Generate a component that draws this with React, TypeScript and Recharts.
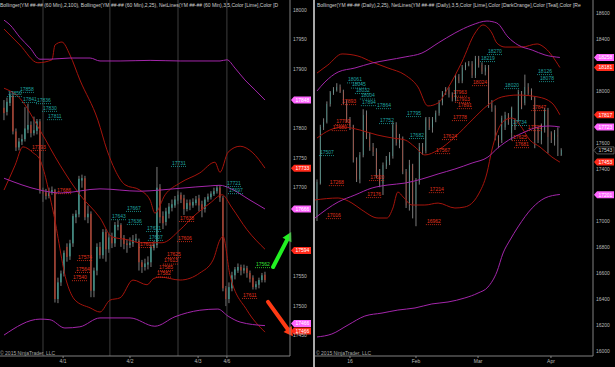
import React from 'react';
import { ComposedChart, Bar, Line, Scatter, XAxis, YAxis, ReferenceLine } from 'recharts';

document.body.style.margin = '0';
document.body.style.background = '#000';

// ---------------------------------------------------------------------------
// colours / fonts
// ---------------------------------------------------------------------------
const FONT = '"Liberation Sans", Arial, sans-serif';
const UP = '#3fd8c6';
const DOWN = '#ff3a1c';
const WICK = '#9a9a9a';
const BB_RED = '#a5140c';
const BB_MAG = '#a326aa';
const TXT_TEAL = '#1fa3a0';
const TXT_RED = '#e2321c';
const TXT_GREEN = '#36e036';
const TAG_MAG = '#ff66ff';
const TAG_RED = '#ff2a1a';
const TICK = '#b9b9b9';
const AXIS = '#808080';
const SESSION = '#3e3e3e';

// ---------------------------------------------------------------------------
// left panel: YM 60 min
// ---------------------------------------------------------------------------
const leftOpen = [
  17835, 17828, 17843, 17855, 17795, 17768, 17778, 17782, 17798, 17806, 17792, 17796, 17812,
  17696, 17692, 17686, 17692, 17696, 17512, 17540, 17555, 17600, 17584, 17606, 17650, 17655,
  17712, 17716, 17650, 17656, 17526, 17560, 17600, 17586, 17625, 17596, 17616, 17606, 17634,
  17637, 17615, 17606, 17603, 17606, 17612, 17610, 17574, 17566, 17570, 17574, 17598, 17603,
  17700, 17652, 17642, 17656, 17666, 17670, 17678, 17688, 17682, 17664, 17675, 17670, 17674,
  17682, 17672, 17664, 17680, 17684, 17689, 17694, 17700, 17683, 17530, 17512, 17530, 17552,
  17560, 17566, 17560, 17564, 17556, 17548, 17532, 17536, 17544, 17553,
];
const leftHigh = [
  17848, 17852, 17862, 17860, 17800, 17784, 17790, 17836, 17842, 17812, 17820, 17816, 17816,
  17700, 17698, 17700, 17702, 17698, 17548, 17560, 17594, 17606, 17612, 17656, 17662, 17720,
  17722, 17720, 17670, 17660, 17565, 17606, 17608, 17630, 17630, 17622, 17624, 17642, 17645,
  17640, 17620, 17612, 17616, 17620, 17622, 17614, 17578, 17580, 17584, 17604, 17610, 17735,
  17706, 17660, 17666, 17674, 17680, 17686, 17694, 17692, 17688, 17680, 17680, 17682, 17686,
  17688, 17678, 17684, 17690, 17694, 17700, 17704, 17704, 17686, 17534, 17540, 17558, 17566,
  17572, 17570, 17570, 17568, 17560, 17552, 17542, 17548, 17556, 17558,
];
const leftLow = [
  17814, 17822, 17838, 17790, 17762, 17763, 17772, 17778, 17792, 17785, 17788, 17790, 17690,
  17676, 17680, 17682, 17688, 17506, 17505, 17534, 17550, 17575, 17578, 17600, 17640, 17650,
  17700, 17645, 17640, 17515, 17515, 17552, 17580, 17580, 17575, 17590, 17598, 17600, 17628,
  17600, 17596, 17590, 17598, 17600, 17608, 17560, 17556, 17560, 17562, 17566, 17594, 17598,
  17640, 17630, 17636, 17648, 17660, 17666, 17672, 17674, 17654, 17660, 17662, 17666, 17670,
  17660, 17650, 17658, 17676, 17680, 17686, 17690, 17676, 17525, 17500, 17505, 17525, 17545,
  17556, 17552, 17555, 17548, 17540, 17528, 17528, 17530, 17540, 17540,
];
const leftClose = [
  17826, 17845, 17857, 17795, 17768, 17778, 17782, 17800, 17806, 17792, 17797, 17812, 17696,
  17690, 17686, 17692, 17696, 17512, 17540, 17555, 17590, 17583, 17606, 17652, 17656, 17715,
  17716, 17650, 17656, 17526, 17560, 17600, 17586, 17625, 17596, 17616, 17606, 17637, 17637,
  17615, 17605, 17603, 17607, 17612, 17614, 17574, 17566, 17572, 17574, 17600, 17604, 17700,
  17650, 17640, 17660, 17668, 17672, 17680, 17688, 17680, 17664, 17674, 17670, 17676, 17680,
  17670, 17662, 17680, 17685, 17690, 17694, 17700, 17683, 17530, 17512, 17532, 17552, 17562,
  17566, 17560, 17564, 17556, 17546, 17532, 17537, 17544, 17552, 17544,
];

// Bollinger(2,100) – magenta
const leftMagUpper = [
  [0, 17983], [2, 17975], [5.3, 17954], [8.7, 17936], [12, 17917], [15.3, 17917], [22, 17919],
  [28.7, 17919], [32, 17914], [38.7, 17914], [48.7, 17915], [58.7, 17914], [72, 17914],
  [74.3, 17916], [77, 17902], [80.3, 17882], [83.7, 17865], [87, 17848],
];
const leftMagMid = [
  [0, 17716], [12, 17696], [18.7, 17691], [32, 17698], [45.3, 17694], [52, 17696], [58.7, 17699],
  [68.7, 17703], [72, 17704], [75.3, 17699], [82, 17679], [87, 17664],
];
const leftMagLower = [
  [0, 17451], [12, 17478], [15.3, 17477], [20.3, 17463], [25.3, 17465], [32, 17480], [42, 17480],
  [50.3, 17466], [57, 17482], [65.3, 17493], [71.3, 17495], [74.7, 17483], [78.7, 17473],
  [87, 17467],
];
// Bollinger(2,25) – dark red
const leftRedUpper = [
  [0, 17968], [5.3, 17941], [11.3, 17911], [16, 17916], [17, 17941], [19.3, 17946], [22, 17924],
  [25.3, 17882], [31.3, 17814], [34.3, 17764], [37, 17730], [40.3, 17705], [45.3, 17696],
  [48.7, 17679], [50.3, 17657], [53.7, 17688], [58.7, 17708], [65.3, 17725], [70.3, 17743],
  [72, 17726], [74.7, 17760], [78.7, 17770], [82.7, 17760], [87, 17733],
];
const leftRedMid = [
  [0, 17868], [5.3, 17851], [12, 17797], [18.7, 17738], [25.3, 17688], [32, 17649], [36, 17617],
  [41.3, 17612], [45.3, 17607], [52.7, 17607], [58.7, 17629], [63.7, 17654], [68.7, 17674],
  [72.7, 17688], [76, 17666], [81, 17629], [87, 17596],
];
const leftRedLower = [
  [0, 17696], [3.7, 17738], [6.3, 17769], [9.7, 17759], [12, 17747], [16.3, 17662], [21, 17539],
  [23.7, 17510], [28.7, 17497], [32, 17490], [35.3, 17510], [38.7, 17514], [43, 17544],
  [47.7, 17536], [49.7, 17546], [52, 17549], [58.7, 17544], [65.3, 17556], [69.7, 17578],
  [72, 17612], [73, 17618], [75.3, 17553], [81, 17493], [87, 17456],
];

// NetLines labels: [bar index, price, text, colour]
const leftNetLabels: [number, number, string, string][] = [
  [5.3, 17867, '17858', 't'], [1.3, 17860, '17850', 't'], [6.3, 17850, '17841', 't'],
  [11, 17848, '17836', 't'], [13, 17835, '17830', 't'], [14.7, 17821, '17811', 't'],
  [9.3, 17769, '17793', 'r'], [17.7, 17696, '17686', 'r'], [24.7, 17583, '17574', 'r'],
  [24, 17563, '17564', 'r'], [23, 17549, '17540', 'r'], [41, 17666, '17667', 't'],
  [36, 17652, '17643', 't'], [41.3, 17644, '17636', 't'], [56, 17742, '17731', 't'],
  [58.7, 17649, '17638', 'r'], [47.7, 17632, '17621', 't'], [48.3, 17617, '17607', 't'],
  [58, 17615, '17606', 'r'], [45.3, 17605, '17601', 'r'], [54.3, 17588, '17625', 'r'],
  [53.3, 17577, '17613', 'r'], [51.7, 17566, '17585', 'r'], [51, 17555, '17582', 'r'],
  [74.3, 17708, '17721', 't'], [75, 17696, '17697', 't'], [84, 17571, '17562', 'g'],
  [79.7, 17519, '17611', 'r'],
];
const leftMarkers: [number, string, string][] = [
  [17848, '17848', 'm'], [17733, '17733', 'r'], [17664, '17666', 'm'], [17594, '17594', 'r'],
  [17470.5, '17466', 'm'], [17458, '17466', 'r'],
];
const leftSessions = [13, 35.3, 58, 74.3];
const leftDateTicks = [19.7, 42, 64.7, 74.3];
const leftDateLabels = ['4/1', '4/2', '4/3', '4/6'];
// ticks hidden behind the price tags in the original are left out
const leftPriceTicks = [17450, 17500, 17550, 17700, 17750, 17800, 17900, 17950, 18000];
// drawn arrows: [[i1, p1], [i2, p2]]
const leftArrows: [number[][], string][] = [
  [[[89.7, 17566], [95.7, 17625]], '#22f022'],
  [[[88, 17507], [96.3, 17449]], '#ff3a14'],
];

// ---------------------------------------------------------------------------
// right panel: YM daily
// ---------------------------------------------------------------------------
const rightOpen = [
  17031, 17290, 17723, 17760, 17900, 17985, 18005, 18030, 17995, 17920, 17780, 17730, 17470,
  17320, 17508, 17815, 17650, 17570, 17530, 17370, 17290, 17420, 17460, 17500, 17740, 17600,
  17640, 17380, 17120, 17430, 17110, 17300, 17570, 17540, 17785, 17720, 17780, 17830, 17910,
  17990, 18010, 17975, 17940, 18110, 18080, 18180, 18200, 18210, 18120, 18250, 18200, 18150,
  18180, 17900, 17870, 17640, 17623, 17720, 17815, 17677, 17770, 17777, 17985, 17908, 18031,
  18000, 17946, 17700, 17623, 17700, 17854, 17677, 17623, 17660, 17508,
];
const rightHigh = [
  17320, 17740, 17790, 17920, 18000, 18030, 18060, 18050, 18010, 17930, 17800, 17740, 17490,
  17530, 17860, 17850, 17680, 17600, 17560, 17400, 17450, 17500, 17530, 17760, 17760, 17670,
  17650, 17400, 17470, 17440, 17330, 17600, 17600, 17800, 17800, 17800, 17850, 17930, 18000,
  18030, 18030, 17990, 18130, 18130, 18200, 18220, 18230, 18230, 18270, 18270, 18220, 18200,
  18200, 17930, 17890, 17660, 17810, 17840, 17830, 17880, 17790, 18010, 18000, 18126, 18060,
  18020, 17960, 17720, 17750, 17870, 17870, 17690, 17700, 17720, 17560,
];
const rightLow = [
  17000, 17280, 17700, 17750, 17880, 17970, 17995, 17985, 17900, 17760, 17700, 17450, 17300,
  17290, 17490, 17630, 17540, 17500, 17330, 17260, 17200, 17400, 17430, 17480, 17580, 17560,
  17360, 17100, 17080, 17020, 16960, 17280, 17510, 17520, 17700, 17680, 17760, 17810, 17890,
  17970, 17950, 17920, 17920, 18060, 18060, 18160, 18190, 18100, 18100, 18180, 18130, 18120,
  17870, 17840, 17620, 17560, 17600, 17700, 17740, 17620, 17700, 17760, 17860, 17890, 17970,
  17930, 17560, 17600, 17590, 17680, 17520, 17600, 17580, 17500, 17500,
];
const rightClose = [
  17300, 17723, 17760, 17900, 17990, 18010, 18030, 17995, 17920, 17780, 17730, 17470, 17320,
  17508, 17815, 17650, 17570, 17530, 17370, 17290, 17430, 17470, 17510, 17740, 17600, 17640,
  17380, 17120, 17430, 17130, 17300, 17570, 17540, 17790, 17720, 17780, 17830, 17910, 17990,
  18010, 17975, 17940, 18110, 18080, 18180, 18200, 18210, 18120, 18250, 18200, 18150, 18180,
  17900, 17870, 17640, 17600, 17792, 17815, 17760, 17869, 17723, 17992, 17877, 18031, 17985,
  17950, 17623, 17623, 17738, 17854, 17646, 17623, 17677, 17650, 17546,
];

const rightMagUpper = [
  [0, 18000], [2.4, 18069], [6.4, 18146], [11.5, 18177], [16.7, 18215], [21.5, 18238],
  [26.7, 18262], [31.8, 18292], [36.7, 18369], [41.8, 18446], [47, 18508], [51.5, 18538],
  [54.5, 18523], [57.9, 18415], [60.9, 18354], [65.2, 18315], [69.1, 18277], [73.6, 18258],
];
const rightMagMid = [
  [-0.6, 17023], [6.4, 17146], [11.5, 17200], [16.7, 17254], [21.5, 17277], [26.7, 17292],
  [31.8, 17323], [36.7, 17362], [41.8, 17400], [47, 17446], [51.8, 17492], [54.8, 17562],
  [59.1, 17638], [63, 17685], [67, 17723], [70.6, 17731], [73.6, 17723],
];
const rightMagLower = [
  [0, 16108], [4.5, 16131], [9.4, 16200], [14.5, 16269], [19.7, 16292], [24.5, 16315],
  [29.7, 16331], [34.8, 16362], [39.7, 16377], [44.8, 16408], [48.8, 16446], [51.8, 16492],
  [54.5, 16608], [56.4, 16754], [58.5, 16854], [60.9, 16954], [65.2, 17100], [69.1, 17177],
  [73.6, 17204],
];
const rightRedUpper = [
  [0, 18138], [3.3, 18200], [7.6, 18285], [12.4, 18269], [16.7, 18223], [21.5, 18177],
  [26.7, 18123], [30.6, 18031], [33.6, 17885], [36.7, 17908], [39.7, 18023], [43.9, 18223],
  [47.9, 18446], [50.3, 18508], [53, 18446], [54.5, 18369], [57, 18338], [62.1, 18338],
  [66.7, 18362], [69.1, 18331], [73.6, 18181],
];
const rightRedMid = [
  [0, 17638], [3.9, 17700], [7.9, 17723], [13, 17700], [18.2, 17662], [23, 17638], [26.7, 17623],
  [29.7, 17569], [32.7, 17508], [36.7, 17546], [41.8, 17646], [47, 17777], [51.8, 17892],
  [56, 17954], [60.9, 17969], [67, 17954], [71.2, 17908], [73.6, 17817],
];
const rightRedLower = [
  [-0.6, 17162], [6.4, 17177], [10.6, 17138], [13.6, 17085], [18.5, 17023], [21.2, 17023],
  [23, 17100], [24.5, 17223], [26.1, 17185], [28.8, 17123], [32.7, 17123], [36.7, 17138],
  [41.8, 17100], [44.8, 17108], [48.8, 17200], [51.5, 17369], [53, 17546], [54.5, 17677],
  [57, 17777], [59.1, 17792], [61.5, 17738], [64.5, 17623], [67.6, 17569], [71.2, 17492],
  [73.6, 17453],
];

const rightNetLabels: [number, number, string, string][] = [
  [51.8, 18308, '18270', 't'], [49.7, 18254, '18219', 't'], [67, 18154, '18126', 't'],
  [67.6, 18100, '18078', 't'], [57, 18046, '18020', 't'], [9.4, 18090, '18061', 't'],
  [10.6, 18050, '18045', 't'], [11.8, 18008, '18032', 't'], [13.3, 17966, '18004', 't'],
  [13.6, 17915, '17894', 't'], [18.2, 17892, '17864', 't'], [27.3, 17831, '17795', 't'],
  [19.1, 17777, '17752', 't'], [0.9, 17531, '17507', 't'], [59.4, 17762, '17734', 't'],
  [28.2, 17662, '17682', 't'], [7.6, 17923, '17893', 'r'], [41.2, 17988, '17963', 'r'],
  [42.1, 17940, '17913', 'r'], [42.7, 17892, '17891', 'r'], [47.3, 18069, '18024', 'r'],
  [41.2, 17800, '17778', 'r'], [38.2, 17654, '17624', 'r'], [36.1, 17546, '17567', 'r'],
  [34.2, 17246, '17214', 'r'], [33.3, 17000, '16962', 'r'], [3.9, 17300, '17268', 'r'],
  [3, 17046, '17016', 'r'], [15.2, 17208, '17176', 'r'], [16.1, 17339, '17320', 'r'],
  [5.8, 17769, '17700', 'r'], [4.8, 17723, '17680', 'r'], [65.2, 17877, '17847', 'r'],
  [63.9, 17723, '17725', 'r'], [59.4, 17646, '17625', 'r'], [60, 17592, '17681', 'r'],
];
const rightMarkers: [number, string, string][] = [
  [18258, '18258', 'm'], [18181, '18181', 'r'], [17817, '17817', 'r'], [17723, '17723', 'm'],
  [17543, '17543', 'k'], [17453, '17453', 'r'], [17201, '17201', 'm'],
];
const rightDateTicks = [10, 30, 48.8, 70.9];
const rightDateLabels = ['16', 'Feb', 'Mar', 'Apr'];
const rightPriceTicks = [16000, 16200, 16400, 16600, 16800, 17000, 17400, 17600, 18000, 18400, 18600];

// titles as far as they are visible before the panel edge
const leftTitle =
  'Bollinger(YM ##-## (60 Min),2,100), Bollinger(YM ##-## (60 Min),2,25), NetLines(YM ##-## (60 Min),3,5,Color [Lime],Color [D';
const rightTitle =
  'Bollinger(YM ##-## (Daily),2,25), NetLines(YM ##-## (Daily),3,5,Color [Lime],Color [DarkOrange],Color [Teal],Color [Re';

// ---------------------------------------------------------------------------
// helpers
// ---------------------------------------------------------------------------
const toCandles = (o: number[], h: number[], l: number[], c: number[]) =>
  o.map((v, i) => ({ i, o: v, h: h[i], l: l[i], c: c[i], range: [l[i], h[i]] }));
const toPts = (a: number[][]) => a.map(([i, v]) => ({ i, v }));
const toLabels = (a: [number, number, string, string][]) => a.map(([i, p, t, c]) => ({ i, p, t, c }));

const Candle = (props: any) => {
  const { x, y, width, height, payload } = props;
  if (x == null || !payload) return null;
  const top = Math.min(y, y + height);
  const hgt = Math.abs(height);
  const span = payload.h - payload.l || 1;
  const bTop = top + ((payload.h - Math.max(payload.o, payload.c)) / span) * hgt;
  const bBot = top + ((payload.h - Math.min(payload.o, payload.c)) / span) * hgt;
  const cx = x + width / 2;
  return (
    <g>
      <line x1={cx} x2={cx} y1={top} y2={top + hgt} stroke={WICK} strokeWidth={0.8} />
      <rect x={x} y={bTop} width={width} height={Math.max(1, bBot - bTop)} fill={payload.c >= payload.o ? UP : DOWN} />
    </g>
  );
};

const NetLabel = (props: any) => {
  const { cx, cy, payload } = props;
  if (cx == null || !payload) return null;
  const col = payload.c === 't' ? TXT_TEAL : payload.c === 'g' ? TXT_GREEN : TXT_RED;
  return (
    <g>
      <text x={cx} y={cy + 1.8} fontSize={5} fill={col} fontFamily={FONT}>{payload.t}</text>
      <line x1={cx - 1} x2={cx + 15} y1={cy + 3.6} y2={cy + 3.6} stroke={col} strokeWidth={0.8} strokeDasharray="1 1" />
    </g>
  );
};

const PriceTag = (props: any) => {
  const { viewBox, text, kind } = props;
  if (!viewBox) return null;
  const x = viewBox.x + viewBox.width;
  const y = viewBox.y;
  const fill = kind === 'm' ? TAG_MAG : kind === 'r' ? TAG_RED : '#000';
  const stroke = kind === 'k' ? '#8c8c8c' : 'none';
  const txt = kind === 'k' ? '#d0d0d0' : '#ffffff';
  return (
    <g>
      <polygon
        points={`${x + 1},${y} ${x + 4},${y - 3.5} ${x + 21},${y - 3.5} ${x + 21},${y + 3.5} ${x + 4},${y + 3.5}`}
        fill={fill}
        stroke={stroke}
        strokeWidth={0.6}
      />
      <text x={x + 5.5} y={y + 1.8} fontSize={5} fill={txt} fontFamily={FONT}>{text}</text>
    </g>
  );
};

const arrowShape = (color: string) => (props: any) => {
  const { x1, y1, x2, y2 } = props;
  const ang = Math.atan2(y2 - y1, x2 - x1);
  const hl = 9;
  const hw = 5;
  const bx = x2 - hl * Math.cos(ang);
  const by = y2 - hl * Math.sin(ang);
  const px = -Math.sin(ang) * hw;
  const py = Math.cos(ang) * hw;
  return (
    <g>
      <line x1={x1} y1={y1} x2={bx} y2={by} stroke={color} strokeWidth={4} strokeLinecap="round" />
      <polygon points={`${x2},${y2} ${bx + px},${by + py} ${bx - px},${by - py}`} fill={color} />
    </g>
  );
};

interface PanelProps {
  width: number;
  padLeft: number;
  yWidth: number;
  xDomain: number[];
  yDomain: number[];
  yTicks: number[];
  dateTicks: number[];
  dateLabels: string[];
  candles: any[];
  redLines: number[][][];
  magLines: number[][][];
  labels: [number, number, string, string][];
  markers: [number, string, string][];
  sessions: number[];
  arrows: [number[][], string][];
}

const Panel = (p: PanelProps) => (
  <ComposedChart width={p.width} height={367} data={p.candles} margin={{ top: 0, right: 0, bottom: 0, left: p.padLeft }}>
    <XAxis
      dataKey="i"
      type="number"
      domain={p.xDomain}
      allowDataOverflow
      ticks={p.dateTicks}
      interval={0}
      tickFormatter={(v: number) => p.dateLabels[p.dateTicks.indexOf(v)] ?? ''}
      height={11}
      stroke={AXIS}
      tickSize={2}
      tickMargin={1}
      tick={{ fill: TICK, fontSize: 5, fontFamily: FONT }}
    />
    <YAxis
      orientation="right"
      type="number"
      domain={p.yDomain}
      allowDataOverflow
      ticks={p.yTicks}
      interval={0}
      width={p.yWidth}
      stroke={AXIS}
      tickLine={false}
      tickSize={0}
      tickMargin={3}
      tick={{ fill: TICK, fontSize: 5, fontFamily: FONT }}
    />
    {p.sessions.map((s) => (
      <ReferenceLine key={`s${s}`} x={s} stroke={SESSION} strokeWidth={1} />
    ))}
    <Bar dataKey="range" barSize={2} shape={<Candle />} activeBar={false} isAnimationActive={false} />
    {p.redLines.map((l, k) => (
      <Line key={`r${k}`} data={toPts(l)} dataKey="v" type="monotone" stroke={BB_RED} strokeWidth={1} dot={false} activeDot={false} isAnimationActive={false} />
    ))}
    {p.magLines.map((l, k) => (
      <Line key={`m${k}`} data={toPts(l)} dataKey="v" type="monotone" stroke={BB_MAG} strokeWidth={1} dot={false} activeDot={false} isAnimationActive={false} />
    ))}
    <Scatter data={toLabels(p.labels)} dataKey="p" shape={<NetLabel />} isAnimationActive={false} />
    {p.markers.map(([price, text, kind], k) => (
      <ReferenceLine key={`t${k}`} y={price} stroke="none" strokeOpacity={0} label={<PriceTag text={text} kind={kind} />} />
    ))}
    {p.arrows.map(([seg, color], k) => (
      <ReferenceLine
        key={`a${k}`}
        segment={[{ x: seg[0][0], y: seg[0][1] }, { x: seg[1][0], y: seg[1][1] }]}
        ifOverflow="visible"
        shape={arrowShape(color)}
      />
    ))}
  </ComposedChart>
);

export default function App() {
  return (
    <div style={{ position: 'relative', width: 615, height: 367, background: '#000', overflow: 'hidden' }}>
      <div style={{ position: 'absolute', left: 0, top: 0 }}>
        <Panel
          width={313}
          padLeft={0}
          yWidth={23}
          xDomain={[-1.333, 95.333]}
          yDomain={[17415.7, 18017]}
          yTicks={leftPriceTicks}
          dateTicks={leftDateTicks}
          dateLabels={leftDateLabels}
          candles={toCandles(leftOpen, leftHigh, leftLow, leftClose)}
          redLines={[leftRedUpper, leftRedMid, leftRedLower]}
          magLines={[leftMagUpper, leftMagMid, leftMagLower]}
          labels={leftNetLabels}
          markers={leftMarkers}
          sessions={leftSessions}
          arrows={leftArrows}
        />
      </div>
      <div style={{ position: 'absolute', left: 313, top: 0 }}>
        <Panel
          width={302}
          padLeft={2}
          yWidth={22}
          xDomain={[-0.606, 83.64]}
          yDomain={[15961.6, 18700]}
          yTicks={rightPriceTicks}
          dateTicks={rightDateTicks}
          dateLabels={rightDateLabels}
          candles={toCandles(rightOpen, rightHigh, rightLow, rightClose)}
          redLines={[rightRedUpper, rightRedMid, rightRedLower]}
          magLines={[rightMagUpper, rightMagMid, rightMagLower]}
          labels={rightNetLabels}
          markers={rightMarkers}
          sessions={[]}
          arrows={[]}
        />
      </div>
      <div style={{ position: 'absolute', left: 313, top: 0, width: 2, height: 367, background: '#a8a8a8' }} />
      <svg width={615} height={367} style={{ position: 'absolute', left: 0, top: 0, pointerEvents: 'none' }}>
        <defs>
          <clipPath id="tl"><rect x={0} y={0} width={290} height={10} /></clipPath>
          <clipPath id="tr"><rect x={315} y={0} width={278} height={10} /></clipPath>
        </defs>
        <text x={0} y={6.8} fontSize={5} fill="#cfcfcf" fontFamily={FONT} clipPath="url(#tl)">{leftTitle}</text>
        <text x={317} y={6.8} fontSize={5} fill="#cfcfcf" fontFamily={FONT} clipPath="url(#tr)">{rightTitle}</text>
        <text x={0} y={354.5} fontSize={5} fill="#a8a8a8" fontFamily={FONT}>© 2015 NinjaTrader, LLC</text>
        <text x={316} y={354.5} fontSize={5} fill="#a8a8a8" fontFamily={FONT}>© 2015 NinjaTrader, LLC</text>
      </svg>
    </div>
  );
}
